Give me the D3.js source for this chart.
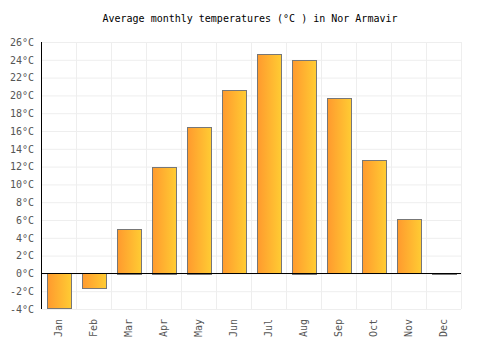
<!DOCTYPE html>
<html>
<head>
<meta charset="utf-8">
<script src="https://cdn.jsdelivr.net/npm/d3@7"></script>
<style>
  body { margin: 0; background: #fff; }
  text { font-family: "DejaVu Sans Mono", monospace; }
</style>
</head>
<body>
<div id="chart"></div>
<script>
// data
const months = ["Jan", "Feb", "Mar", "Apr", "May", "Jun", "Jul", "Aug", "Sep", "Oct", "Nov", "Dec"];
const temps = [-3.9, -1.7, 5.0, 12.0, 16.5, 20.6, 24.6, 24.0, 19.7, 12.7, 6.1, 0.1];
const yTicks = [-4, -2, 0, 2, 4, 6, 8, 10, 12, 14, 16, 18, 20, 22, 24, 26];

const margin = {top: 42, right: 39, bottom: 41, left: 41},
    width = 500 - margin.left - margin.right,
    height = 350 - margin.top - margin.bottom;

const svg = d3.select("#chart")
    .append("svg")
    .attr("width", 500)
    .attr("height", 350);

// title
svg.append("text")
    .attr("x", 250)
    .attr("y", 22)
    .attr("text-anchor", "middle")
    .attr("font-size", 10)
    .attr("fill", "#000")
    .text("Average monthly temperatures (°C ) in Nor Armavir");

// bar gradient
const grad = svg.append("defs").append("linearGradient")
    .attr("id", "barGrad")
    .attr("x1", "0%").attr("x2", "100%").attr("y1", "0%").attr("y2", "0%");
grad.append("stop").attr("offset", "0%").attr("stop-color", "#ff9a2e");
grad.append("stop").attr("offset", "100%").attr("stop-color", "#ffcc33");

const g = svg.append("g")
    .attr("transform", `translate(${margin.left}, ${margin.top})`);

const x = d3.scaleBand()
    .domain(months)
    .range([0, width])
    .paddingInner(0.32)
    .paddingOuter(0.16);

const y = d3.scaleLinear()
    .domain([-4, 26])
    .range([height, 0]);

// grid lines
g.append("g")
    .selectAll("line.h")
    .data(yTicks)
    .join("line")
    .attr("x1", 0).attr("x2", width)
    .attr("y1", d => y(d) + 0.5).attr("y2", d => y(d) + 0.5)
    .attr("stroke", "#eeeeee");

const step = x.step();
g.append("g")
    .selectAll("line.v")
    .data(d3.range(months.length + 1))
    .join("line")
    .attr("x1", i => Math.round(i * step) + 0.5)
    .attr("x2", i => Math.round(i * step) + 0.5)
    .attr("y1", 0).attr("y2", height)
    .attr("stroke", "#eeeeee");

// bars
g.selectAll("rect.bar")
    .data(temps)
    .join("rect")
    .attr("class", "bar")
    .attr("x", (d, i) => Math.round(x(months[i])) + 0.5)
    .attr("width", Math.round(x.bandwidth()))
    .attr("y", d => Math.round(y(Math.max(0, d))) + 0.5)
    .attr("height", d => Math.max(1, Math.round(Math.abs(y(d) - y(0)))))
    .attr("fill", "url(#barGrad)")
    .attr("stroke", "#777777")
    .attr("stroke-width", 1);

// zero line
g.append("line")
    .attr("x1", 0).attr("x2", width)
    .attr("y1", Math.round(y(0)) + 0.5).attr("y2", Math.round(y(0)) + 0.5)
    .attr("stroke", "#000");

// y axis
const yAxis = g.append("g")
    .call(d3.axisLeft(y).tickValues(yTicks).tickSize(0).tickPadding(7).tickFormat(d => d + "°C"));
yAxis.select(".domain").attr("stroke", "#000").attr("d", `M0.5,0V${height}`);
yAxis.selectAll("text")
    .attr("font-family", "DejaVu Sans Mono, monospace")
    .attr("font-size", 10)
    .attr("fill", "#555");

// x axis labels
const xAxis = g.append("g")
    .attr("transform", `translate(0, ${height})`)
    .call(d3.axisBottom(x).tickSize(0).tickPadding(0));
xAxis.select(".domain").remove();
xAxis.selectAll("text")
    .attr("font-family", "DejaVu Sans Mono, monospace")
    .attr("font-size", 10)
    .attr("fill", "#555")
    .attr("text-anchor", "end")
    .attr("dy", "0.35em")
    .attr("transform", "translate(0, 10) rotate(-90)")
    .attr("x", 0)
    .attr("y", 0);
</script>
</body>
</html>
